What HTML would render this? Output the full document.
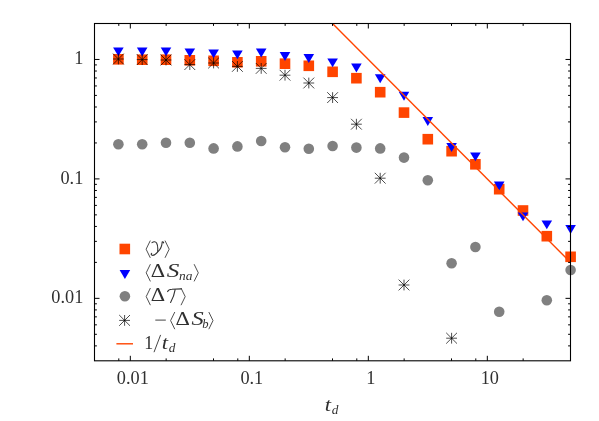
<!DOCTYPE html>
<html><head><meta charset="utf-8"><title>plot</title><style>html,body{margin:0;padding:0;background:#fff}body{width:599px;height:421px;overflow:hidden}</style></head><body>
<svg width="599" height="421" viewBox="0 0 599 421" style="display:block;will-change:transform;font-family:'Liberation Serif',serif">
<rect width="599" height="421" fill="#fff"/>
<rect x="113.10" y="54.00" width="10.6" height="10.6" fill="#ff4500"/>
<rect x="136.90" y="54.40" width="10.6" height="10.6" fill="#ff4500"/>
<rect x="160.70" y="54.40" width="10.6" height="10.6" fill="#ff4500"/>
<rect x="184.50" y="55.00" width="10.6" height="10.6" fill="#ff4500"/>
<rect x="208.30" y="55.50" width="10.6" height="10.6" fill="#ff4500"/>
<rect x="232.10" y="57.00" width="10.6" height="10.6" fill="#ff4500"/>
<rect x="255.90" y="56.00" width="10.6" height="10.6" fill="#ff4500"/>
<rect x="279.70" y="58.40" width="10.6" height="10.6" fill="#ff4500"/>
<rect x="303.50" y="60.50" width="10.6" height="10.6" fill="#ff4500"/>
<rect x="327.30" y="66.50" width="10.6" height="10.6" fill="#ff4500"/>
<rect x="351.10" y="72.90" width="10.6" height="10.6" fill="#ff4500"/>
<rect x="374.90" y="86.90" width="10.6" height="10.6" fill="#ff4500"/>
<rect x="398.70" y="107.30" width="10.6" height="10.6" fill="#ff4500"/>
<rect x="422.50" y="133.90" width="10.6" height="10.6" fill="#ff4500"/>
<rect x="446.30" y="145.90" width="10.6" height="10.6" fill="#ff4500"/>
<rect x="470.10" y="159.00" width="10.6" height="10.6" fill="#ff4500"/>
<rect x="493.90" y="183.90" width="10.6" height="10.6" fill="#ff4500"/>
<rect x="517.70" y="205.20" width="10.6" height="10.6" fill="#ff4500"/>
<rect x="541.50" y="230.90" width="10.6" height="10.6" fill="#ff4500"/>
<rect x="565.30" y="251.50" width="10.6" height="10.6" fill="#ff4500"/>
<path d="M113.10 47.40L123.70 47.40L118.40 56.30Z" fill="#0000ff"/>
<path d="M136.90 47.60L147.50 47.60L142.20 56.50Z" fill="#0000ff"/>
<path d="M160.70 47.40L171.30 47.40L166.00 56.30Z" fill="#0000ff"/>
<path d="M184.50 48.40L195.10 48.40L189.80 57.30Z" fill="#0000ff"/>
<path d="M208.30 49.40L218.90 49.40L213.60 58.30Z" fill="#0000ff"/>
<path d="M232.10 50.40L242.70 50.40L237.40 59.30Z" fill="#0000ff"/>
<path d="M255.90 48.60L266.50 48.60L261.20 57.50Z" fill="#0000ff"/>
<path d="M279.70 52.00L290.30 52.00L285.00 60.90Z" fill="#0000ff"/>
<path d="M303.50 54.00L314.10 54.00L308.80 62.90Z" fill="#0000ff"/>
<path d="M327.30 58.40L337.90 58.40L332.60 67.30Z" fill="#0000ff"/>
<path d="M351.10 63.60L361.70 63.60L356.40 72.50Z" fill="#0000ff"/>
<path d="M374.90 74.30L385.50 74.30L380.20 83.20Z" fill="#0000ff"/>
<path d="M398.70 91.80L409.30 91.80L404.00 100.70Z" fill="#0000ff"/>
<path d="M422.50 117.00L433.10 117.00L427.80 125.90Z" fill="#0000ff"/>
<path d="M446.30 143.00L456.90 143.00L451.60 151.90Z" fill="#0000ff"/>
<path d="M470.10 152.40L480.70 152.40L475.40 161.30Z" fill="#0000ff"/>
<path d="M493.90 181.60L504.50 181.60L499.20 190.50Z" fill="#0000ff"/>
<path d="M517.70 212.40L528.30 212.40L523.00 221.30Z" fill="#0000ff"/>
<path d="M541.50 220.40L552.10 220.40L546.80 229.30Z" fill="#0000ff"/>
<path d="M565.30 225.00L575.90 225.00L570.60 233.90Z" fill="#0000ff"/>
<circle cx="118.40" cy="144.20" r="5.3" fill="#808080"/>
<circle cx="142.20" cy="144.20" r="5.3" fill="#808080"/>
<circle cx="166.00" cy="142.80" r="5.3" fill="#808080"/>
<circle cx="189.80" cy="142.80" r="5.3" fill="#808080"/>
<circle cx="213.60" cy="148.40" r="5.3" fill="#808080"/>
<circle cx="237.40" cy="146.40" r="5.3" fill="#808080"/>
<circle cx="261.20" cy="141.00" r="5.3" fill="#808080"/>
<circle cx="285.00" cy="147.20" r="5.3" fill="#808080"/>
<circle cx="308.80" cy="148.80" r="5.3" fill="#808080"/>
<circle cx="332.60" cy="146.00" r="5.3" fill="#808080"/>
<circle cx="356.40" cy="147.60" r="5.3" fill="#808080"/>
<circle cx="380.20" cy="148.40" r="5.3" fill="#808080"/>
<circle cx="404.00" cy="157.60" r="5.3" fill="#808080"/>
<circle cx="427.80" cy="180.20" r="5.3" fill="#808080"/>
<circle cx="451.60" cy="263.20" r="5.3" fill="#808080"/>
<circle cx="475.40" cy="247.00" r="5.3" fill="#808080"/>
<circle cx="499.20" cy="311.80" r="5.3" fill="#808080"/>
<circle cx="546.80" cy="300.20" r="5.3" fill="#808080"/>
<circle cx="570.60" cy="270.00" r="5.3" fill="#808080"/>
<path d="M113.00 59.00H123.80M118.40 53.60V64.40M113.00 53.60L123.80 64.40M113.00 64.40L123.80 53.60" stroke="#000" stroke-width="0.7" fill="none"/>
<path d="M136.80 59.60H147.60M142.20 54.20V65.00M136.80 54.20L147.60 65.00M136.80 65.00L147.60 54.20" stroke="#000" stroke-width="0.7" fill="none"/>
<path d="M160.60 60.00H171.40M166.00 54.60V65.40M160.60 54.60L171.40 65.40M160.60 65.40L171.40 54.60" stroke="#000" stroke-width="0.7" fill="none"/>
<path d="M184.40 64.60H195.20M189.80 59.20V70.00M184.40 59.20L195.20 70.00M184.40 70.00L195.20 59.20" stroke="#000" stroke-width="0.7" fill="none"/>
<path d="M208.20 63.00H219.00M213.60 57.60V68.40M208.20 57.60L219.00 68.40M208.20 68.40L219.00 57.60" stroke="#000" stroke-width="0.7" fill="none"/>
<path d="M232.00 66.40H242.80M237.40 61.00V71.80M232.00 61.00L242.80 71.80M232.00 71.80L242.80 61.00" stroke="#000" stroke-width="0.7" fill="none"/>
<path d="M255.80 68.40H266.60M261.20 63.00V73.80M255.80 63.00L266.60 73.80M255.80 73.80L266.60 63.00" stroke="#000" stroke-width="0.7" fill="none"/>
<path d="M279.60 75.20H290.40M285.00 69.80V80.60M279.60 69.80L290.40 80.60M279.60 80.60L290.40 69.80" stroke="#000" stroke-width="0.7" fill="none"/>
<path d="M303.40 83.00H314.20M308.80 77.60V88.40M303.40 77.60L314.20 88.40M303.40 88.40L314.20 77.60" stroke="#000" stroke-width="0.7" fill="none"/>
<path d="M327.20 97.60H338.00M332.60 92.20V103.00M327.20 92.20L338.00 103.00M327.20 103.00L338.00 92.20" stroke="#000" stroke-width="0.7" fill="none"/>
<path d="M351.00 124.20H361.80M356.40 118.80V129.60M351.00 118.80L361.80 129.60M351.00 129.60L361.80 118.80" stroke="#000" stroke-width="0.7" fill="none"/>
<path d="M374.80 178.20H385.60M380.20 172.80V183.60M374.80 172.80L385.60 183.60M374.80 183.60L385.60 172.80" stroke="#000" stroke-width="0.7" fill="none"/>
<path d="M398.60 285.00H409.40M404.00 279.60V290.40M398.60 279.60L409.40 290.40M398.60 290.40L409.40 279.60" stroke="#000" stroke-width="0.7" fill="none"/>
<path d="M446.20 338.20H457.00M451.60 332.80V343.60M446.20 332.80L457.00 343.60M446.20 343.60L457.00 332.80" stroke="#000" stroke-width="0.7" fill="none"/>
<path d="M332.50 23.50L570.50 262.39" stroke="#ff4500" stroke-width="1.4" fill="none"/>
<rect x="119.50" y="243.70" width="10.6" height="10.6" fill="#ff4500"/>
<path d="M119.60 270.00L130.20 270.00L124.90 278.90Z" fill="#0000ff"/>
<circle cx="124.90" cy="296.30" r="5.3" fill="#808080"/>
<path d="M119.20 320.40H130.00M124.60 315.00V325.80M119.20 315.00L130.00 325.80M119.20 325.80L130.00 315.00" stroke="#000" stroke-width="0.7" fill="none"/>
<path d="M116.4 343.8H133" stroke="#ff4500" stroke-width="1.4"/>
<path d="M94.5 345.88h2.4M570.5 345.88h-2.4M94.5 334.30h2.4M570.5 334.30h-2.4M94.5 324.84h2.4M570.5 324.84h-2.4M94.5 316.85h2.4M570.5 316.85h-2.4M118.79 360.8v-2.4M118.79 23.5v2.4M94.5 309.92h2.4M570.5 309.92h-2.4M94.5 303.81h2.4M570.5 303.81h-2.4M130.32 360.8v-5.0M130.32 23.5v5.0M94.5 298.35h5.0M570.5 298.35h-5.0M166.15 360.8v-2.4M166.15 23.5v2.4M94.5 262.39h2.4M570.5 262.39h-2.4M94.5 241.36h2.4M570.5 241.36h-2.4M94.5 226.43h2.4M570.5 226.43h-2.4M213.50 360.8v-2.4M213.50 23.5v2.4M94.5 214.86h2.4M570.5 214.86h-2.4M94.5 205.40h2.4M570.5 205.40h-2.4M94.5 197.40h2.4M570.5 197.40h-2.4M237.79 360.8v-2.4M237.79 23.5v2.4M94.5 190.48h2.4M570.5 190.48h-2.4M94.5 184.37h2.4M570.5 184.37h-2.4M249.32 360.8v-5.0M249.32 23.5v5.0M94.5 178.90h5.0M570.5 178.90h-5.0M285.15 360.8v-2.4M285.15 23.5v2.4M94.5 142.94h2.4M570.5 142.94h-2.4M94.5 121.91h2.4M570.5 121.91h-2.4M94.5 106.99h2.4M570.5 106.99h-2.4M332.50 360.8v-2.4M332.50 23.5v2.4M94.5 95.41h2.4M570.5 95.41h-2.4M94.5 85.95h2.4M570.5 85.95h-2.4M94.5 77.96h2.4M570.5 77.96h-2.4M356.79 360.8v-2.4M356.79 23.5v2.4M94.5 71.03h2.4M570.5 71.03h-2.4M94.5 64.92h2.4M570.5 64.92h-2.4M368.32 360.8v-5.0M368.32 23.5v5.0M94.5 59.46h5.0M570.5 59.46h-5.0M404.15 360.8v-2.4M404.15 23.5v2.4M451.50 360.8v-2.4M451.50 23.5v2.4M475.79 360.8v-2.4M475.79 23.5v2.4M487.32 360.8v-5.0M487.32 23.5v5.0M523.15 360.8v-2.4M523.15 23.5v2.4" stroke="#000" stroke-width="1" fill="none"/>
<rect x="94.5" y="23.5" width="476.0" height="337.3" fill="none" stroke="#000" stroke-width="1.1"/>
<g fill="#303030" font-size="18.3">
<text x="132.82" y="384.4" text-anchor="middle">0.01</text>
<text x="251.82" y="384.4" text-anchor="middle">0.1</text>
<text x="370.82" y="384.4" text-anchor="middle">1</text>
<text x="489.82" y="384.4" text-anchor="middle">10</text>
<text x="83.3" y="64.16" text-anchor="end">1</text>
<text x="83.3" y="183.60" text-anchor="end">0.1</text>
<text x="83.3" y="303.05" text-anchor="end">0.01</text>
</g>
<text x="324.7" y="410.8" font-size="18.3" font-style="italic" fill="#303030" textLength="6.3" lengthAdjust="spacingAndGlyphs">t</text>
<text x="331.8" y="413.7" font-size="13.3" font-style="italic" fill="#303030">d</text>
<path d="M150.30 240.60L146.10 249.20L150.30 257.80" stroke="#303030" stroke-width="0.85" fill="none" stroke-linejoin="bevel"/>
<path d="M165.00 240.60L169.20 249.20L165.00 257.80" stroke="#303030" stroke-width="0.85" fill="none" stroke-linejoin="bevel"/>
<path d="M152 242.6C153.5 241.5 155.6 241.4 156.6 243C158 245.5 158 248.5 157.6 251.8M163.6 243C163.7 242 162.7 241.5 162.2 242C162 246 160 250 157.6 252.2C155.5 254.5 153 255.9 151.8 255.1C151 254.5 151.1 253.7 151.6 253.4" stroke="#303030" stroke-width="1.1" fill="none" stroke-linecap="round"/>
<path d="M150.40 264.20L146.20 272.80L150.40 281.40" stroke="#303030" stroke-width="0.85" fill="none" stroke-linejoin="bevel"/>
<text x="150.80" y="276.60" font-size="17.9" fill="#303030" textLength="14.4" lengthAdjust="spacingAndGlyphs">Δ</text>
<text x="166.80" y="276.60" font-size="17.9" font-style="italic" fill="#303030" textLength="12.6" lengthAdjust="spacingAndGlyphs">S</text>
<text x="179.00" y="280.20" font-size="13" font-style="italic" fill="#303030" textLength="13.4" lengthAdjust="spacingAndGlyphs">na</text>
<path d="M194.10 264.20L198.30 272.80L194.10 281.40" stroke="#303030" stroke-width="0.85" fill="none" stroke-linejoin="bevel"/>
<path d="M150.40 288.00L146.20 296.60L150.40 305.20" stroke="#303030" stroke-width="0.85" fill="none" stroke-linejoin="bevel"/>
<text x="150.80" y="300.50" font-size="17.9" fill="#303030" textLength="14.4" lengthAdjust="spacingAndGlyphs">Δ</text>
<path d="M167.6 291.6C168.3 289.9 170 289.3 172 289.3L181.3 288.9M175.2 289.4C174.5 294 172.8 298.5 170.6 302.4" stroke="#303030" stroke-width="1.1" fill="none" stroke-linecap="round"/>
<path d="M181.00 288.00L185.20 296.60L181.00 305.20" stroke="#303030" stroke-width="0.85" fill="none" stroke-linejoin="bevel"/>
<path d="M155.3 320.1H165.8" stroke="#303030" stroke-width="0.9"/>
<path d="M174.80 312.00L170.60 320.60L174.80 329.20" stroke="#303030" stroke-width="0.85" fill="none" stroke-linejoin="bevel"/>
<text x="175.60" y="324.80" font-size="17.9" fill="#303030" textLength="14.4" lengthAdjust="spacingAndGlyphs">Δ</text>
<text x="191.40" y="324.80" font-size="17.9" font-style="italic" fill="#303030" textLength="12.2" lengthAdjust="spacingAndGlyphs">S</text>
<text x="202.30" y="327.80" font-size="12.6" font-style="italic" fill="#303030" >b</text>
<path d="M208.80 312.00L213.00 320.60L208.80 329.20" stroke="#303030" stroke-width="0.85" fill="none" stroke-linejoin="bevel"/>
<text x="144.20" y="348.60" font-size="17.9" fill="#303030" >1</text>
<path d="M154 352.2L160.6 334.9" stroke="#303030" stroke-width="0.9"/>
<text x="161.8" y="348.6" font-size="17.9" font-style="italic" fill="#303030" textLength="6.3" lengthAdjust="spacingAndGlyphs">t</text>
<text x="168.8" y="351.70000000000005" font-size="13.3" font-style="italic" fill="#303030">d</text>
</svg>
</body></html>
